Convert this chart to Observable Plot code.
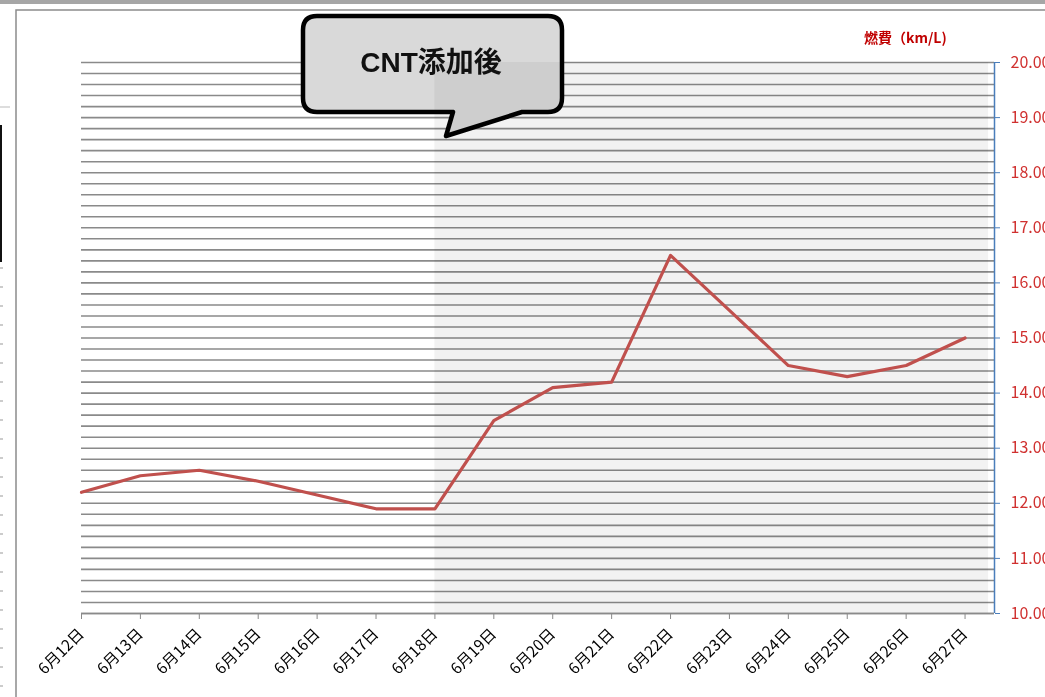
<!DOCTYPE html>
<html><head><meta charset="utf-8">
<script src="https://cdn.jsdelivr.net/npm/d3@7"></script>
<script src="https://cdn.jsdelivr.net/npm/@observablehq/plot@0.6"></script>
<style>body{margin:0;background:#fff;overflow:hidden}</style>
</head><body><div id="chart"></div>
<script>
const dates = ["6月12日","6月13日","6月14日","6月15日","6月16日","6月17日","6月18日","6月19日","6月20日","6月21日","6月22日","6月23日","6月24日","6月25日","6月26日","6月27日"];
const fuel = [12.2,12.5,12.6,12.4,12.15,11.9,11.9,13.5,14.1,14.2,16.5,15.5,14.5,14.3,14.5,15.0];
const yTicks = [10,11,12,13,14,15,16,17,18,19,20];
const gridStep = 0.2;
const afterStart = "6月18日";
const axisTitle = "燃費（km/L)";
const calloutText = "CNT添加後";

const data = dates.map((d,i)=>({i, date:d, v:fuel[i]}));
const grid = d3.range(0, 51).map(k => 10 + k*gridStep);
const shade = [{x1: dates.indexOf(afterStart), x2: 15.4, y1: 10, y2: 20}];

function decor(index, scales, values, dims) {
  const g = d3.create("svg:g");
  g.append("rect").attr("x",0).attr("y",0).attr("width",dims.width).attr("height",4).attr("fill","#a6a6a6");
  g.append("path").attr("d",`M16,${dims.height} V10 H${dims.width}`).attr("fill","none").attr("stroke","#8c8c8c").attr("stroke-width",1.5);
  g.append("rect").attr("x",0).attr("y",125).attr("width",2).attr("height",137).attr("fill","#111");
  g.append("line").attr("x1",0).attr("x2",10).attr("y1",107).attr("y2",107).attr("stroke","#bbb");
  for (let y=268; y<697; y+=19) g.append("line").attr("x1",0).attr("x2",3).attr("y1",y).attr("y2",y).attr("stroke","#999");
  return g.node();
}
function callout(index, scales, values, dims) {
  const g = d3.create("svg:g");
  const x0=303, x1=562, y0=16, y1=112, r=14;
  const tip=[446,136], b1=453, b2=522;
  const p = `M${x0+r},${y0} H${x1-r} Q${x1},${y0} ${x1},${y0+r} V${y1-r} Q${x1},${y1} ${x1-r},${y1} H${b2} L${tip[0]},${tip[1]} L${b1},${y1} H${x0+r} Q${x0},${y1} ${x0},${y1-r} V${y0+r} Q${x0},${y0} ${x0+r},${y0} Z`;
  g.append("path").attr("d",p).attr("fill","#d9d9d9").attr("stroke","#000").attr("stroke-width",4.5).attr("stroke-linejoin","round");
  g.append("text").attr("x",431).attr("y",65).attr("text-anchor","middle").attr("dominant-baseline","middle")
    .attr("font-size",28).attr("font-weight","bold").attr("font-family","'Liberation Sans', 'Noto Sans CJK JP', sans-serif").attr("fill","#111").text(calloutText);
  return g.node();
}
function title(index, scales, values, dims) {
  const g = d3.create("svg:g");
  g.append("text").attr("x",864).attr("y",43).attr("text-anchor","start").attr("font-size",14).attr("font-weight","bold")
    .attr("font-family","'Noto Sans CJK JP', sans-serif").attr("fill","#c00000").text(axisTitle);
  return g.node();
}

const chart = Plot.plot({
  width: 1045, height: 697,
  marginLeft: 81, marginRight: 51, marginTop: 62, marginBottom: 84,
  style: {fontFamily: "'Noto Sans CJK JP', sans-serif", background: "#fff", overflow: "visible"},
  x: {type: "linear", domain: [0, 15.5], axis: null},
  y: {domain: [10, 20], axis: null},
  marks: [
    decor,
    Plot.ruleY(grid, {stroke: "#8a8a8a", strokeWidth: 1.6}),
    callout,
    Plot.rect(shade, {x1: "x1", x2: "x2", y1: "y1", y2: "y2", fill: "#f2f2f2", mixBlendMode: "multiply"}),
    Plot.ruleY([10], {stroke: "#8a8a8a", strokeWidth: 1.6}),
    Plot.axisX({ticks: d3.range(dates.length), tickFormat: i => dates[i], tickSize: 6, tickRotate: -45,
      stroke: "#8a8a8a", fill: "#000", fontSize: 15.5, tickPadding: 12}),
    Plot.ruleX([15.5], {y1: 10, y2: 20, stroke: "#4a7ebb", strokeWidth: 1.5}),
    Plot.axisY({anchor: "right", ticks: yTicks, tickFormat: d => d.toFixed(2), tickSize: 5, tickPadding: 11,
      stroke: "#4a7ebb", fill: "#d0302f", fontSize: 16}),
    Plot.line(data, {x: "i", y: "v", stroke: "#c0504d", strokeWidth: 3.2}),
    title
  ]
});
document.getElementById("chart").appendChild(chart);
</script></body></html>
